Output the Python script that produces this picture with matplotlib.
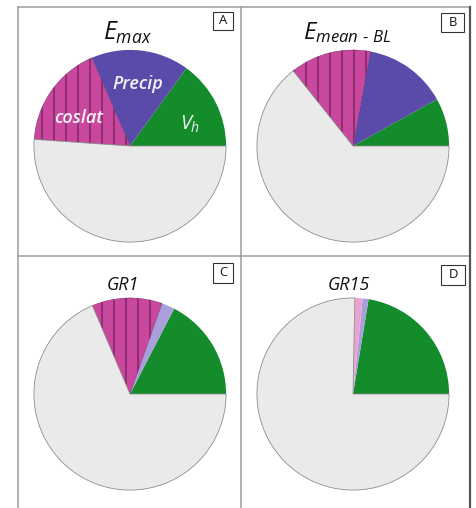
import matplotlib
matplotlib.use("Agg")
import matplotlib.pyplot as plt
from matplotlib.lines import Line2D
from matplotlib.patches import Rectangle

plt.rcParams['font.family'] = ['Open Sans', 'DejaVu Sans']
plt.rcParams['mathtext.fontset'] = 'custom'
plt.rcParams['mathtext.it'] = 'Open Sans:italic'
plt.rcParams['mathtext.rm'] = 'Open Sans'
plt.rcParams['hatch.linewidth'] = 0.9

# ---- data (percent of variance explained), order: Vh, Precip, coslat, other
categories = ["V_h", "Precip", "coslat", "other"]
panel_letters = ["A", "B", "C", "D"]
panel_titles = [r"$E_{max}$", r"$E_{mean\ \text{-}\ BL}$", "GR1", "GR15"]
vals_A = [15.0, 16.5, 17.4, 51.1]
vals_B = [8.1, 14.0, 13.6, 64.3]
vals_C = [17.4, 2.2, 11.8, 68.6]
vals_D = [22.4, 1.0, 1.3, 75.3]
all_vals = [vals_A, vals_B, vals_C, vals_D]

# colours per panel
green = "#148c2c"
purple = "#5a4aaa"
pink = "#c9489e"
lpurple = "#a99fdc"
lpink = "#eaa4d2"
grey = "#eaeaea"
panel_colors = [
    [green, purple, pink, grey],
    [green, purple, pink, grey],
    [green, lpurple, pink, grey],
    [green, lpurple, lpink, grey],
]
hatched = [True, True, True, False]

W, H = 476, 508
DPI = 72
fig = plt.figure(figsize=(W / DPI, H / DPI), dpi=DPI)
fig.patch.set_facecolor("white")

centers = [(130, 146), (353, 146), (130, 394), (353, 394)]
R = 98

def fx(x):
    return x / W

def fy(y):
    return 1 - y / H

for i, (vals, cols) in enumerate(zip(all_vals, panel_colors)):
    cx, cy = centers[i]
    ax = fig.add_axes([fx(cx - R), fy(cy + R), 2 * R / W, 2 * R / H])
    wedges, _ = ax.pie(vals, colors=cols, startangle=0, counterclock=True,
                       radius=1.0, wedgeprops=dict(linewidth=0))
    # grey slice outline
    wedges[3].set_edgecolor("#8a8a8a")
    wedges[3].set_linewidth(0.8)
    if hatched[i]:
        wedges[2].set_hatch("|")
        wedges[2].set_edgecolor("#4a1040")
        wedges[2].set_linewidth(0.3)
    ax.set_xlim(-1.02, 1.02)
    ax.set_ylim(-1.02, 1.02)
    ax.axis("off")

    if i == 0:
        ax.text(0.08, 0.65, "Precip", ha="center", va="center", fontsize=18,
                style="italic", fontweight="semibold", color="#f2f2f2")
        ax.text(-0.53, 0.29, "coslat", ha="center", va="center", fontsize=18,
                style="italic", fontweight="semibold", color="#f2f2f2")
        ax.text(0.63, 0.23, r"$V_h$", ha="center", va="center", fontsize=20,
                color="#f2f2f2")

# titles
fig.text(fx(127), fy(33), panel_titles[0], ha="center", va="center", fontsize=25, color="#111")
fig.text(fx(347), fy(33), panel_titles[1], ha="center", va="center", fontsize=24, color="#111")
fig.text(fx(123), fy(285), panel_titles[2], ha="center", va="center", fontsize=18,
         style="italic", color="#111")
fig.text(fx(349), fy(285), panel_titles[3], ha="center", va="center", fontsize=18,
         style="italic", color="#111")

# panel letter boxes
boxes = [(213, 12, 20, 18), (441, 13, 23, 19), (213, 263, 20, 20), (441, 265, 24, 20)]
for (bx, by, bw, bh), letter in zip(boxes, panel_letters):
    fig.patches.append(Rectangle((fx(bx), fy(by + bh)), bw / W, bh / H,
                                 transform=fig.transFigure, fill=False,
                                 edgecolor="#333", linewidth=1.1))
    fig.text(fx(bx + bw / 2), fy(by + bh / 2), letter, ha="center", va="center",
             fontsize=13, color="#111")

# frame lines
lc = "#9a9a9a"
fig.lines.append(Line2D([fx(17.5), fx(17.5)], [fy(7), 0], transform=fig.transFigure, color=lc, lw=1.5))
fig.lines.append(Line2D([fx(17.5), fx(469)], [fy(7), fy(7)], transform=fig.transFigure, color=lc, lw=1.5))
fig.lines.append(Line2D([fx(240.5), fx(240.5)], [fy(7), 0], transform=fig.transFigure, color=lc, lw=1.5))
fig.lines.append(Line2D([fx(17.5), fx(469)], [fy(256), fy(256)], transform=fig.transFigure, color=lc, lw=1.5))
fig.lines.append(Line2D([fx(469.5), fx(469.5)], [fy(7), 0], transform=fig.transFigure, color="#555", lw=2.2))

fig.savefig("out.png", dpi=DPI, facecolor="white")
